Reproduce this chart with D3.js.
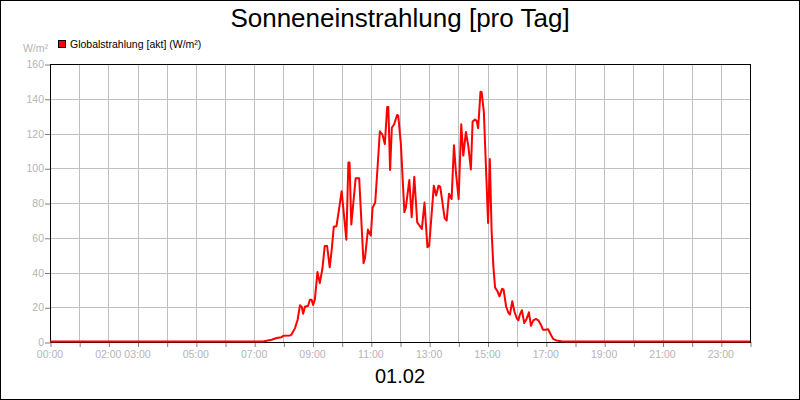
<!DOCTYPE html>
<html>
<head>
<meta charset="utf-8">
<script src="https://d3js.org/d3.v7.min.js"></script>
<style>
  body { margin: 0; background: #fff; }
  svg text { font-family: "Liberation Sans", Arial, sans-serif; }
</style>
</head>
<body>
<script>
  // time of day in hours, value in W/m²
  var hours = [0, 7.3, 7.6, 7.77, 7.94, 8.0, 8.23, 8.28, 8.4, 8.49, 8.57, 8.63, 8.68, 8.74, 8.85, 8.91,
    8.97, 9.02, 9.08, 9.17, 9.25, 9.34, 9.42, 9.5, 9.59, 9.66, 9.73, 9.82, 9.9, 10.0,
    10.16, 10.23, 10.27, 10.33, 10.48, 10.6, 10.75, 10.8, 10.9, 11.0, 11.06, 11.15, 11.23, 11.31,
    11.4, 11.48, 11.56, 11.6, 11.66, 11.72, 11.8, 11.9, 11.94, 12.03, 12.15, 12.2, 12.32, 12.4,
    12.49, 12.59, 12.67, 12.75, 12.84, 12.94, 13.0, 13.16, 13.24, 13.32, 13.38, 13.53, 13.6, 13.68,
    13.77, 13.85, 13.92, 14.01, 14.1, 14.17, 14.26, 14.34, 14.43, 14.49, 14.57, 14.63, 14.68, 14.76,
    14.8, 14.875, 15.02, 15.08, 15.14, 15.2, 15.26, 15.34, 15.41, 15.5, 15.55, 15.64, 15.72, 15.77,
    15.85, 15.92, 16.0, 16.06, 16.11, 16.18, 16.26, 16.34, 16.42, 16.49, 16.57, 16.66, 16.74, 16.83,
    16.9, 16.99, 17.08, 17.16, 17.25, 17.36, 17.53, 17.7, 24];
  var values = [0, 0, 1, 2, 2.5, 3.3, 3.5, 4, 7.7, 12.5, 20.8, 20, 16, 20, 20.6, 24,
    24, 21, 24, 40, 33.6, 42, 55, 55, 42.7, 53, 66, 66.3, 75, 86.5,
    58.6, 103, 103, 67.3, 94, 94, 45, 48, 64.4, 61, 77, 80, 100, 121,
    119, 113.6, 135, 135, 98.7, 123, 125, 130.4, 130, 113.6, 74.4, 77, 93, 71.5,
    94.8, 68.6, 66.7, 64.8, 80, 54.3, 55, 89.7, 84, 89.7, 89, 71, 69.6, 85,
    82, 113, 97, 82, 125, 107, 120.6, 112.7, 99, 126.6, 127.7, 127, 122.7, 143.8,
    143.5, 132, 68.2, 105, 64, 43.5, 31, 29, 26, 30.3, 30, 20, 16.4, 15.5,
    23.2, 17.4, 13.5, 12.2, 15.5, 18, 10.6, 13, 16.8, 9, 12.2, 13, 12.2, 9.7,
    6.8, 6.8, 7.1, 4.3, 1.5, 0.6, 0.2, 0, 0];

  var labelHours = [0, 2, 3, 5, 7, 9, 11, 13, 15, 17, 19, 21, 23];
  var labelTexts = ["00:00", "02:00", "03:00", "05:00", "07:00", "09:00", "11:00",
    "13:00", "15:00", "17:00", "19:00", "21:00", "23:00"];
  var yTicks = [0, 20, 40, 60, 80, 100, 120, 140, 160];

  var title = "Sonneneinstrahlung [pro Tag]";
  var dateLabel = "01.02";
  var seriesName = "Globalstrahlung [akt] (W/m²)";
  var unit = "W/m²";

  var width = 800, height = 400;
  var plotL = 50, plotR = 750, plotT = 64, plotB = 342;

  var svg = d3.select("body").append("svg")
    .attr("width", width)
    .attr("height", height);

  svg.append("rect")
    .attr("x", 0.5).attr("y", 0.5)
    .attr("width", width - 1).attr("height", height - 1)
    .attr("fill", "#fff").attr("stroke", "#000");

  var x = d3.scaleLinear().domain([0, 24]).range([plotL, plotR]);
  var y = d3.scaleLinear().domain([0, 160]).range([plotB, plotT]);

  // grid
  var hourTicks = d3.range(0, 25);
  svg.append("g").selectAll("line").data(hourTicks.slice(1, 24)).enter()
    .append("line")
    .attr("x1", function(d) { return Math.round(x(d)) + 0.5; })
    .attr("x2", function(d) { return Math.round(x(d)) + 0.5; })
    .attr("y1", plotT).attr("y2", plotB)
    .attr("stroke", "#c0c0c0");
  svg.append("g").selectAll("line").data(yTicks.slice(1, -1)).enter()
    .append("line")
    .attr("x1", plotL).attr("x2", plotR)
    .attr("y1", function(d) { return Math.round(y(d)) + 0.5; })
    .attr("y2", function(d) { return Math.round(y(d)) + 0.5; })
    .attr("stroke", "#c0c0c0");

  // axes ticks
  var xAxis = d3.axisBottom(x).tickValues(hourTicks).tickFormat("").tickSize(5).tickSizeOuter(0);
  var gx = svg.append("g").attr("transform", "translate(0.5," + plotB + ")").call(xAxis);
  gx.select(".domain").remove();
  gx.selectAll("line").attr("stroke", "#808080");

  var yAxis = d3.axisLeft(y).tickValues(yTicks).tickFormat("").tickSize(5).tickSizeOuter(0);
  var gy = svg.append("g").attr("transform", "translate(" + plotL + ",0.5)").call(yAxis);
  gy.select(".domain").remove();
  gy.selectAll("line").attr("stroke", "#808080");

  // tick labels
  svg.append("g").selectAll("text").data(labelHours).enter()
    .append("text")
    .attr("x", function(d) { return x(d); })
    .attr("y", 358)
    .attr("text-anchor", "middle")
    .attr("font-size", 10.5)
    .attr("fill", "#b4b4b4")
    .text(function(d, i) { return labelTexts[i]; });

  svg.append("g").selectAll("text").data(yTicks).enter()
    .append("text")
    .attr("x", 44)
    .attr("y", function(d) { return y(d) + 4; })
    .attr("text-anchor", "end")
    .attr("font-size", 10.5)
    .attr("fill", "#b4b4b4")
    .text(function(d) { return d; });

  // series line
  var pts = hours.map(function(h, i) { return [h, values[i]]; });
  var line = d3.line()
    .x(function(d) { return x(d[0]); })
    .y(function(d) { return y(d[1]) - 0.5; });

  // frame
  svg.append("rect")
    .attr("x", plotL + 0.5).attr("y", plotT + 0.5)
    .attr("width", plotR - plotL).attr("height", plotB - plotT)
    .attr("fill", "none").attr("stroke", "#000");

  svg.append("path")
    .datum(pts)
    .attr("d", line)
    .attr("fill", "none")
    .attr("stroke", "#ff0000")
    .attr("stroke-width", 2)
    .attr("stroke-linejoin", "round");

  // texts
  svg.append("text")
    .attr("x", 400).attr("y", 27)
    .attr("text-anchor", "middle")
    .attr("font-size", 26)
    .attr("fill", "#000")
    .text(title);

  svg.append("text")
    .attr("x", 400).attr("y", 383)
    .attr("text-anchor", "middle")
    .attr("font-size", 20)
    .attr("fill", "#000")
    .text(dateLabel);

  svg.append("rect")
    .attr("x", 58.5).attr("y", 40.5)
    .attr("width", 7).attr("height", 7)
    .attr("fill", "#ff0000").attr("stroke", "#000");
  svg.append("text")
    .attr("x", 70).attr("y", 48)
    .attr("font-size", 10.5)
    .attr("fill", "#000")
    .text(seriesName);

  svg.append("text")
    .attr("x", 48).attr("y", 52)
    .attr("text-anchor", "end")
    .attr("font-size", 10.5)
    .attr("fill", "#b4b4b4")
    .text(unit);
</script>
</body>
</html>
